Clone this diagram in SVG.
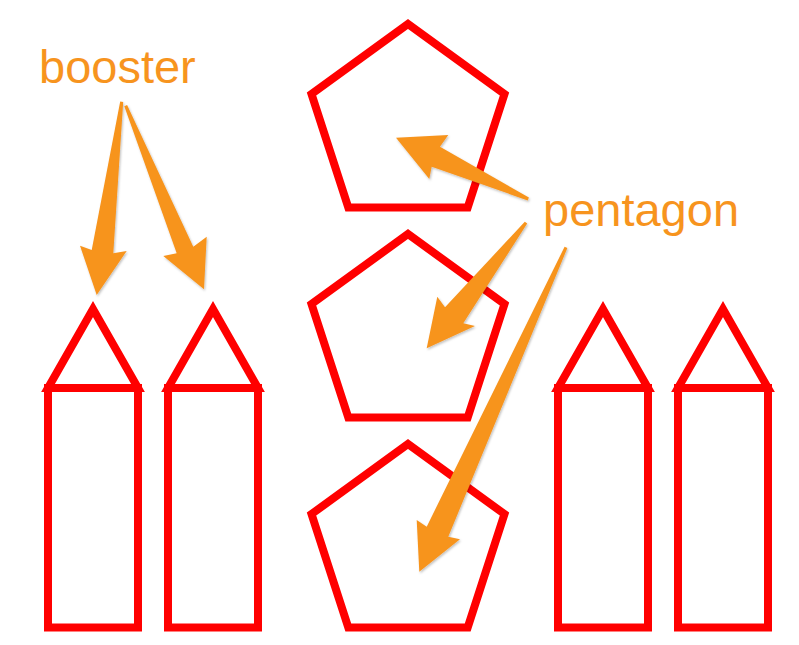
<svg xmlns="http://www.w3.org/2000/svg" width="799" height="645" viewBox="0 0 799 645">
  <defs>
    <style>
      .shape { fill: none; stroke: #FF0000; stroke-width: 8; stroke-linejoin: miter; }
      .label { font-family: "Liberation Sans", Arial, Helvetica, sans-serif; font-size: 47px; fill: #F7941E; }
      .arrow { fill: #F7941E; stroke: none; filter: url(#shadow); }
    </style>
    <filter id="shadow" x="-20%" y="-20%" width="140%" height="140%">
      <feDropShadow dx="1" dy="1.5" stdDeviation="1.2" flood-color="#000000" flood-opacity="0.25"/>
    </filter>
    <polygon id="pent" points="408,24 504.5,94.1 467.7,207.6 348.3,207.6 311.5,94.1"/>
  </defs>
  <rect width="799" height="645" fill="#FFFFFF"/>

  <g id="booster1">
    <rect class="shape" x="48" y="388" width="90" height="239.5"/>
    <polygon class="shape" points="48,388 93,309 138,388"/>
  </g>
  <g id="booster2">
    <rect class="shape" x="168" y="388" width="90" height="239.5"/>
    <polygon class="shape" points="168,388 213,309 258,388"/>
  </g>
  <g id="booster3">
    <rect class="shape" x="558" y="388" width="90" height="239.5"/>
    <polygon class="shape" points="558,388 603,309 648,388"/>
  </g>
  <g id="booster4">
    <rect class="shape" x="678" y="388" width="90" height="239.5"/>
    <polygon class="shape" points="678,388 723,309 768,388"/>
  </g>

  <g id="pentagon1">
    <use href="#pent" class="shape"/>
  </g>
  <g id="pentagon2">
    <use href="#pent" class="shape" transform="translate(0,210)"/>
  </g>
  <g id="pentagon3">
    <use href="#pent" class="shape" transform="translate(0,420)"/>
  </g>

  <g id="label-booster">
    <text class="label" x="39" y="83">booster</text>
  </g>
  <g id="label-pentagon">
    <text class="label" x="543" y="226">pentagon</text>
  </g>

  <g id="connectors">
    <polygon class="arrow" points="120.2,101.5 91.7,250 80,245.7 96.7,295 126.7,251 113.3,253.3 123.2,101.9"/>
    <polygon class="arrow" points="124.3,106.3 176.7,253.3 163.3,256 204,289.3 206.7,236.7 193.3,246.7 127.1,105.1"/>
    <polygon class="arrow" points="528.9,197.6 440,146.7 448.3,135 396,137.7 429.3,179 431.7,166.7 527.7,200.4"/>
    <polygon class="arrow" points="524.8,221.8 445,307.3 437.3,296.7 426.7,348.3 475,326 463.3,323.3 527.2,223.6"/>
    <polygon class="arrow" points="564.6,246.7 426.7,526.7 416.7,520 419.3,571.7 460,539.3 448.3,536.7 567.4,247.9"/>
  </g>
</svg>
